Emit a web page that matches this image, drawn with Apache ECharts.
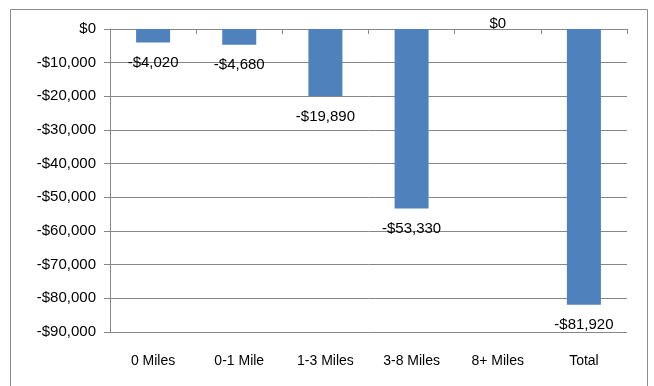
<!DOCTYPE html>
<html><head><meta charset="utf-8">
<script src="https://cdn.jsdelivr.net/npm/echarts@6/dist/echarts.min.js"></script>
<style>html,body{margin:0;padding:0;background:#fff}#c{width:654px;height:386px}</style>
</head><body><div id="c"></div>
<script>
const categories = ['0 Miles', '0-1 Mile', '1-3 Miles', '3-8 Miles', '8+ Miles', 'Total'];
const values = [-4020, -4680, -19890, -53330, 0, -81920];
const yMin = -90000, yMax = 0, yStep = 10000;

function money(v) {
  const s = '$' + Math.abs(v).toLocaleString('en-US');
  return v < 0 ? '-' + s : s;
}
const font = 'Liberation Sans, Arial, sans-serif';
const chart = echarts.init(document.getElementById('c'), null, {renderer: 'canvas'});
chart.setOption({
  animation: false,
  graphic: [{type: 'rect', shape: {x: 10.5, y: 9.5, width: 637, height: 390}, style: {fill: 'none', stroke: '#8c8c8c', lineWidth: 1}}],
  grid: {left: 110, right: 27, top: 29, bottom: 54},
  xAxis: [
    {type: 'category', data: categories, position: 'bottom',
     axisLine: {show: false}, axisTick: {show: false},
     axisLabel: {margin: 22, fontSize: 14, color: '#000', fontFamily: font}},
    {type: 'category', data: categories, position: 'top',
     axisLine: {show: true, onZero: false, lineStyle: {color: '#868686', width: 1}},
     axisTick: {show: true, inside: true, length: 5, lineStyle: {color: '#868686'}},
     axisLabel: {show: false}}
  ],
  yAxis: {type: 'value', min: yMin, max: yMax, interval: yStep,
    axisLine: {show: true, lineStyle: {color: '#868686'}},
    axisTick: {show: true, length: 6, lineStyle: {color: '#868686'}},
    splitLine: {lineStyle: {color: '#868686', width: 1}},
    axisLabel: {formatter: money, fontSize: 15, color: '#000', fontFamily: font, margin: 14}},
  series: [{
    type: 'bar', xAxisIndex: 0,
    data: values.map(v => v === 0 ? {value: v, label: {position: 'top', distance: -2}} : v),
    barWidth: 34,
    itemStyle: {color: '#4F81BD'},
    label: {show: true, position: 'bottom', distance: 13, formatter: p => money(p.value),
      fontSize: 15, color: '#000', fontFamily: font}
  }]
});
</script></body></html>
